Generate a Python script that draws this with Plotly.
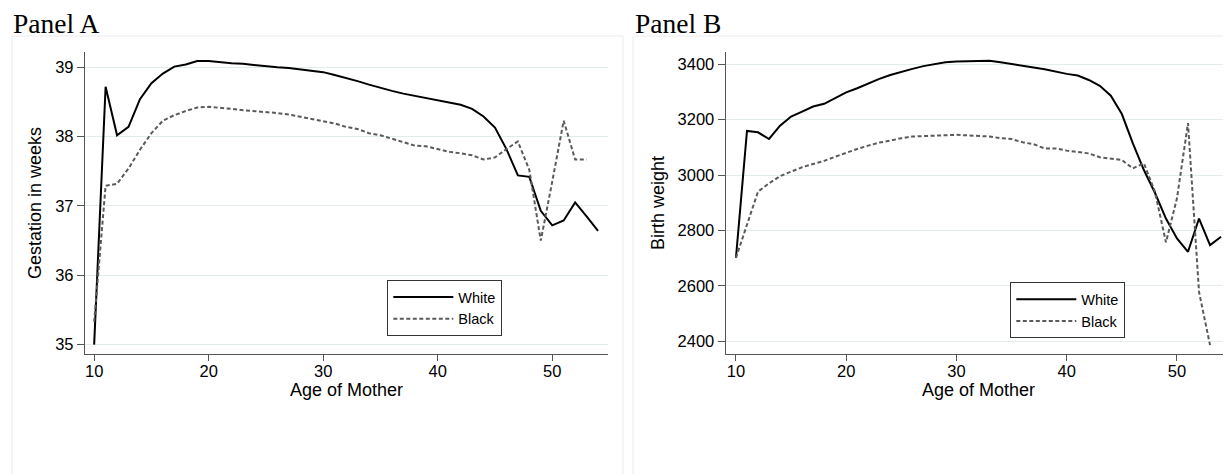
import plotly.graph_objects as go

# ---------------- data ----------------
ages = [10, 11, 12, 13, 14, 15, 16, 17, 18, 19,
        20, 21, 22, 23, 24, 25, 26, 27, 28, 29,
        30, 31, 32, 33, 34, 35, 36, 37, 38, 39,
        40, 41, 42, 43, 44, 45, 46, 47, 48, 49,
        50, 51, 52, 53, 54]

gest_white = [35.00, 38.72, 38.02, 38.14, 38.54, 38.77, 38.91, 39.01, 39.04, 39.09,
              39.09, 39.07, 39.06, 39.05, 39.03, 39.02, 39.00, 38.99, 38.97, 38.95,
              38.93, 38.89, 38.85, 38.80, 38.75, 38.70, 38.66, 38.62, 38.59, 38.55,
              38.53, 38.50, 38.46, 38.40, 38.29, 38.13, 37.82, 37.44, 37.42, 36.93,
              36.72, 36.79, 37.05, 36.85, 36.64]

gest_black = [35.33, 37.29, 37.32, 37.54, 37.81, 38.05, 38.23, 38.31, 38.37, 38.42,
              38.43, 38.42, 38.40, 38.38, 38.37, 38.36, 38.34, 38.32, 38.29, 38.26,
              38.23, 38.19, 38.14, 38.11, 38.05, 38.02, 37.97, 37.92, 37.87, 37.86,
              37.82, 37.78, 37.76, 37.73, 37.67, 37.70, 37.82, 37.93, 37.52, 36.50,
              37.35, 38.23, 37.67, 37.67, None]

bw_white = [2701, 3159, 3154, 3130, 3178, 3211, 3229, 3247, 3257, 3277,
            3298, 3313, 3331, 3347, 3361, 3373, 3383, 3393, 3400, 3407,
            3410, 3411, 3412, 3412, 3407, 3400, 3394, 3388, 3382, 3373,
            3365, 3359, 3343, 3322, 3286, 3220, 3114, 3018, 2936, 2843,
            2771, 2723, 2843, 2747, 2777]

bw_black = [2701, 2819, 2940, 2970, 2996, 3012, 3028, 3040, 3051, 3066,
            3081, 3094, 3106, 3117, 3124, 3133, 3139, 3141, 3142, 3145,
            3145, 3143, 3141, 3139, 3133, 3130, 3118, 3111, 3096, 3096,
            3088, 3084, 3078, 3064, 3058, 3054, 3024, 3042, 2940, 2757,
            2916, 3187, 2578, 2386, None]

series_names = ["White", "Black"]
panel_titles = ["Panel A", "Panel B"]
y_titles = ["Gestation in weeks", "Birth weight"]
x_title = "Age of Mother"
x_ticks = [10, 20, 30, 40, 50]
yA_ticks = [35, 36, 37, 38, 39]
yB_ticks = [2400, 2600, 2800, 3000, 3200, 3400]

# ---------------- figure ----------------
# the page body has an 8px margin; work in page pixels and convert
OFF = 8
W, H = 1231 - OFF, 474 - OFF
def px(x):
    return (x - OFF) / W
def py(y):
    return 1 - (y - OFF) / H

white_style = dict(color="#000000", width=2)
black_style = dict(color="#5a5a5a", width=2, dash="4px,2.5px")

fig = go.Figure()
fig.add_trace(go.Scatter(x=ages, y=gest_white, mode="lines", name=series_names[0],
                         line=white_style, xaxis="x", yaxis="y", legend="legend"))
fig.add_trace(go.Scatter(x=ages, y=gest_black, mode="lines", name=series_names[1],
                         line=black_style, xaxis="x", yaxis="y", legend="legend"))
fig.add_trace(go.Scatter(x=ages, y=bw_white, mode="lines", name=series_names[0],
                         line=white_style, xaxis="x2", yaxis="y2", legend="legend2"))
fig.add_trace(go.Scatter(x=ages, y=bw_black, mode="lines", name=series_names[1],
                         line=black_style, xaxis="x2", yaxis="y2", legend="legend2"))

sans = "Liberation Sans, Arial, sans-serif"
axis_font = dict(family=sans, size=16.5, color="#000")
title_font = dict(family=sans, size=18, color="#000")
axcol = "#555555"
gridcol = "#e3eced"

common_x = dict(showgrid=False, zeroline=False, showline=True, linecolor=axcol, linewidth=1.3,
                ticks="outside", ticklen=6, tickcolor=axcol, tickwidth=1.3,
                tickvals=x_ticks, tickfont=axis_font, ticklabelstandoff=-4)
common_y = dict(showgrid=True, gridcolor=gridcol, gridwidth=1, zeroline=False, showline=True,
                linecolor=axcol, linewidth=1.3, ticks="outside", ticklen=7, tickcolor=axcol,
                tickwidth=1.3, tickfont=axis_font)

ydom = [py(354.3), py(51.7)]
legend_common = dict(xanchor="left", yanchor="top", bgcolor="white", bordercolor="#333333",
                     borderwidth=1, font=dict(family=sans, size=14.5, color="#000"),
                     itemwidth=60, tracegroupgap=0)
serif_font = dict(family="Liberation Serif, Times New Roman, serif", size=27.5, color="#000")

fig.update_layout(
    width=W, height=H,
    margin=dict(l=0, r=0, t=0, b=0),
    paper_bgcolor="white", plot_bgcolor="white",
    xaxis=dict(common_x, domain=[px(85), px(608)], range=[9.2, 54.87], anchor="y"),
    yaxis=dict(common_y, domain=ydom, range=[34.86, 39.225], tickvals=yA_ticks, anchor="x",
               title=dict(text=y_titles[0], font=title_font, standoff=8)),
    xaxis2=dict(common_x, domain=[px(725.7), 1.0], range=[9.07, 54.9], anchor="y2"),
    yaxis2=dict(common_y, domain=ydom, range=[2353, 3445], tickvals=yB_ticks, anchor="x2",
                title=dict(text=y_titles[1], font=title_font, standoff=8)),
    legend=dict(legend_common, x=px(387.3), y=py(280)),
    legend2=dict(legend_common, x=px(1010.3), y=py(282.3)),
    shapes=[
        dict(type="rect", xref="paper", yref="paper", x0=px(12), x1=px(623), y0=-0.05, y1=py(36),
             line=dict(color="#ebebeb", width=1), fillcolor="rgba(0,0,0,0)", layer="below"),
        dict(type="rect", xref="paper", yref="paper", x0=px(633), x1=1.05, y0=-0.05, y1=py(36),
             line=dict(color="#ebebeb", width=1), fillcolor="rgba(0,0,0,0)", layer="below"),
    ],
    annotations=[
        dict(text=panel_titles[0], xref="paper", yref="paper", x=px(11), y=py(40.5),
             xanchor="left", yanchor="bottom", showarrow=False, font=serif_font),
        dict(text=panel_titles[1], xref="paper", yref="paper", x=px(633), y=py(40.5),
             xanchor="left", yanchor="bottom", showarrow=False, font=serif_font),
        dict(text=x_title, xref="paper", yref="paper", x=px(346.5), y=py(390),
             xanchor="center", yanchor="middle", showarrow=False, font=title_font),
        dict(text=x_title, xref="paper", yref="paper", x=px(978), y=py(390),
             xanchor="center", yanchor="middle", showarrow=False, font=title_font),
    ],
)

fig.write_html("out.html", config={"displayModeBar": False})
